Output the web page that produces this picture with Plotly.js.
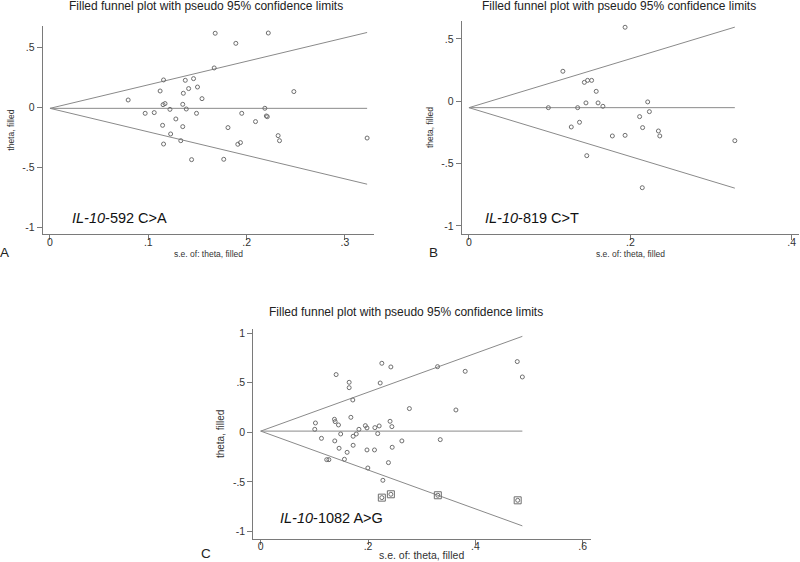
<!DOCTYPE html>
<html>
<head>
<meta charset="utf-8">
<script src="https://cdn.plot.ly/plotly-3.0.1.min.js"></script>
<style>html,body{margin:0;padding:0;background:#fff;}#chart{width:800px;height:562px;}</style>
</head>
<body>
<div id="chart"></div>
<script>
// ---------- Data ----------
// Panel A: IL-10 -592 C>A
const seA = [0.0795,0.0968,0.106,0.112,0.1155,0.1145,0.1155,0.115,0.117,0.122,0.1227,0.128,0.133,0.1356,0.135,0.135,0.1376,0.1386,0.141,0.146,0.144,0.149,0.150,0.1546,0.168,0.167,0.1767,0.181,0.189,0.191,0.1937,0.195,0.209,0.2185,0.22,0.221,0.222,0.232,0.2334,0.248,0.3225];
const thetaA = [0.061,-0.05,-0.044,0.136,0.228,-0.15,-0.306,0.022,0.031,-0.017,-0.222,-0.097,-0.278,0.117,0.025,-0.161,0.225,-0.014,0.156,0.239,-0.436,-0.05,0.169,0.072,0.617,0.328,-0.433,-0.169,0.533,-0.308,-0.294,-0.05,-0.119,-0.008,-0.072,-0.078,0.619,-0.236,-0.278,0.131,-0.256];
const pooledA = -0.0085;

// Panel B: IL-10 -819 C>T
const seB = [0.0984,0.1164,0.1268,0.1347,0.137,0.143,0.147,0.152,0.145,0.146,0.1577,0.16,0.166,0.1777,0.1935,0.1935,0.2115,0.2152,0.2148,0.2215,0.2236,0.2348,0.2365,0.3295];
const thetaB = [-0.051,0.241,-0.206,-0.051,-0.168,0.152,0.168,0.168,-0.013,-0.436,0.080,-0.013,-0.040,-0.278,0.594,-0.273,-0.123,-0.211,-0.693,-0.005,-0.083,-0.238,-0.278,-0.316];
const pooledB = -0.051;

// Panel C: IL-10 -1082 A>G (observed + filled studies)
const seC = [0.1007,0.102,0.1132,0.123,0.127,0.1405,0.1374,0.1387,0.1449,0.138,0.149,0.146,0.156,0.161,0.1648,0.1648,0.168,0.1716,0.1722,0.1722,0.178,0.183,0.195,0.198,0.198,0.1996,0.212,0.2127,0.218,0.2207,0.2226,0.2257,0.2276,0.238,0.241,0.2444,0.2425,0.245,0.263,0.277,0.3295,0.3345,0.3637,0.381,0.478,0.4875];
const thetaC = [0.030,0.094,-0.061,-0.276,-0.276,0.582,0.131,0.108,0.074,-0.087,-0.017,-0.161,-0.272,-0.202,0.504,0.450,0.151,0.326,-0.040,-0.131,-0.017,0.030,0.067,0.044,-0.178,-0.360,-0.178,0.047,-0.013,0.064,0.497,0.696,-0.484,-0.306,0.111,0.057,0.659,-0.151,-0.087,0.239,0.662,-0.074,0.225,0.615,0.713,0.558];
const seCfilled = [0.2257,0.2425,0.330,0.4788];
const thetaCfilled = [-0.659,-0.625,-0.635,-0.686];
const pooledC = 0.012;

const zCrit = 1.96;

// Tick labels
const yTicksAB = [0.5, 0, -0.5, -1];
const yTextAB = ['.5', '0', '-.5', '-1'];
const xTicksA = [0, 0.1, 0.2, 0.3];
const xTextA = ['0', '.1', '.2', '.3'];
const xTicksB = [0, 0.2, 0.4];
const xTextB = ['0', '.2', '.4'];
const yTicksC = [1, 0.5, 0, -0.5, -1];
const yTextC = ['1', '.5', '0', '-.5', '-1'];
const xTicksC = [0, 0.2, 0.4, 0.6];
const xTextC = ['0', '.2', '.4', '.6'];

const panelTitle = 'Filled funnel plot with pseudo 95% confidence limits';
const xTitle = 's.e. of: theta, filled';
const yTitle = 'theta, filled';
const labels = ['<i>IL-10</i>-592 C>A', '<i>IL-10</i>-819 C>T', '<i>IL-10</i>-1082 A>G'];
const letters = ['A', 'B', 'C'];

// ---------- Styling ----------
const W = 800, H = 562;
const FONT = 'Liberation Sans, Arial, Helvetica, sans-serif';
const lineCol = '#8a8a8a';
const axisCol = '#7a7a7a';
const markCol = '#6e6e6e';
const px = v => v / W;
const py = v => 1 - v / H;

function funnelTraces(seList, pooled, xa, ya) {
  const seMax = Math.max.apply(null, seList);
  const xs = [0, seMax];
  const base = {type: 'scatter', mode: 'lines', xaxis: xa, yaxis: ya, hoverinfo: 'skip', showlegend: false,
                line: {color: lineCol, width: 1}};
  return [
    Object.assign({}, base, {x: xs, y: xs.map(s => pooled + zCrit * s)}),
    Object.assign({}, base, {x: xs, y: xs.map(() => pooled)}),
    Object.assign({}, base, {x: xs, y: xs.map(s => pooled - zCrit * s)})
  ];
}
function pts(x, y, xa, ya, symbol, size) {
  return {type: 'scatter', mode: 'markers', x: x, y: y, xaxis: xa, yaxis: ya, showlegend: false,
          marker: {symbol: symbol, size: size, color: markCol, line: {color: markCol, width: 1}}};
}

const traces = [].concat(
  funnelTraces(seA, pooledA, 'x', 'y'),
  [pts(seA, thetaA, 'x', 'y', 'circle-open', 4)],
  funnelTraces(seB, pooledB, 'x2', 'y2'),
  [pts(seB, thetaB, 'x2', 'y2', 'circle-open', 4)],
  funnelTraces(seC.concat(seCfilled), pooledC, 'x3', 'y3'),
  [pts(seC, thetaC, 'x3', 'y3', 'circle-open', 4),
   pts(seCfilled, thetaCfilled, 'x3', 'y3', 'circle-open', 4),
   pts(seCfilled, thetaCfilled, 'x3', 'y3', 'square-open', 7)]
);

function xAxis(domain, range, vals, text, anchor, lift) {
  return {domain: domain, range: range, anchor: anchor, tickmode: 'array', tickvals: vals, ticktext: text,
          showline: true, linecolor: axisCol, linewidth: 1, ticks: 'outside', ticklen: 5, tickcolor: axisCol,
          ticklabelstandoff: lift,
          tickfont: {family: FONT, size: 10.5, color: '#333'}, showgrid: false, zeroline: false,
          automargin: false, fixedrange: true};
}
function yAxis(domain, range, vals, text, anchor, tsize) {
  return {domain: domain, range: range, anchor: anchor, tickmode: 'array', tickvals: vals, ticktext: text,
          showline: true, linecolor: axisCol, linewidth: 1, ticks: 'outside', ticklen: 5, tickcolor: axisCol,
          tickfont: {family: FONT, size: 10.5, color: '#333'}, showgrid: false, zeroline: false,
          automargin: false, fixedrange: true,
          title: {text: yTitle, font: {family: FONT, size: tsize, color: '#333'}, standoff: 6}};
}

const ann = [];
function addTitle(cx, cy) {
  ann.push({text: panelTitle, xref: 'paper', yref: 'paper', x: px(cx), y: py(cy), xanchor: 'center', yanchor: 'middle',
            showarrow: false, font: {family: FONT, size: 12, color: '#222'}});
}
addTitle(206, 6);
addTitle(619, 6);
addTitle(406, 312);
// x-axis titles (placed tight under the tick labels, as in the reference)
function addXTitle(cx, cy, size, anchor) {
  ann.push({text: xTitle, xref: 'paper', yref: 'paper', x: px(cx), y: py(cy), xanchor: 'center', yanchor: anchor,
            showarrow: false, borderpad: 0, font: {family: FONT, size: size, color: '#333'}});
}
addXTitle(208, 254, 8.5, 'middle');
addXTitle(630.5, 254, 8.5, 'middle');
addXTitle(421, 561.5, 10.5, 'bottom');

ann.push({text: labels[0], xref: 'x', yref: 'y', x: 0.0203, y: -0.92, xanchor: 'left', yanchor: 'middle', showarrow: false,
          font: {family: FONT, size: 14.5, color: '#111'}});
ann.push({text: labels[1], xref: 'x2', yref: 'y2', x: 0.0175, y: -0.936, xanchor: 'left', yanchor: 'middle', showarrow: false,
          font: {family: FONT, size: 14.5, color: '#111'}});
ann.push({text: labels[2], xref: 'x3', yref: 'y3', x: 0.032, y: -0.864, xanchor: 'left', yanchor: 'middle', showarrow: false,
          font: {family: FONT, size: 14.5, color: '#111'}});
const letterPos = [[4.5, 253], [433, 253], [206, 553]];
letters.forEach((L, i) => ann.push({text: L, xref: 'paper', yref: 'paper', x: px(letterPos[i][0]), y: py(letterPos[i][1]),
  xanchor: 'center', yanchor: 'middle', showarrow: false, font: {family: FONT, size: 13.5, color: '#222'}}));

const layout = {
  width: W, height: H, margin: {l: 0, r: 0, t: 0, b: 0},
  paper_bgcolor: '#fff', plot_bgcolor: '#fff', showlegend: false,
  xaxis:  xAxis([px(42.7), px(374.3)], [-0.0074, 0.3298], xTicksA, xTextA, 'y', -7),
  yaxis:  yAxis([py(234.3), py(26)], [-1.058, 0.6775], yTicksAB, yTextAB, 'x', 8.5),
  xaxis2: xAxis([px(461.7), px(799.3)], [-0.009, 0.4094], xTicksB, xTextB, 'y2', -7),
  yaxis2: yAxis([py(234.3), py(20.7)], [-1.0668, 0.6465], yTicksAB, yTextAB, 'x2', 8.5),
  xaxis3: xAxis([px(253.3), px(591)], [-0.0138, 0.6154], xTicksC, xTextC, 'y3', -7),
  yaxis3: yAxis([py(538.5), py(329.3)], [-1.071, 1.0386], yTicksC, yTextC, 'x3', 10),
  annotations: ann
};

Plotly.newPlot('chart', traces, layout, {staticPlot: true, displayModeBar: false});
</script>
</body>
</html>
